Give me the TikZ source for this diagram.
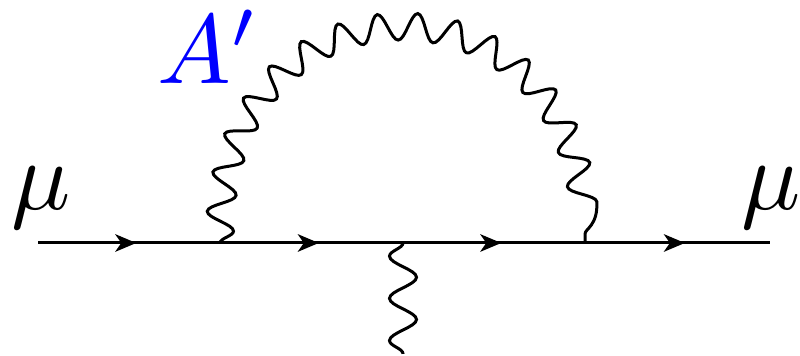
\documentclass[tikz,border=0pt]{standalone}
\usetikzlibrary{arrows.meta,decorations.pathmorphing,decorations.markings}
\begin{document}
\begin{tikzpicture}[
  fermion/.style={line width=0.3mm,postaction={decorate},
    decoration={markings,mark=at position 0.54 with {\arrow{Stealth[length=2.1mm,width=1.75mm,inset=0.6mm]}}}},
  photon/.style={line width=0.3mm,decorate,
    decoration={snake,mirror,amplitude=0.135cm,segment length=#1}},
  biglabel/.style={scale=2.8,inner sep=0pt},
]
  \useasboundingbox (0,0) rectangle (8,3.56);
  % Vertices on the muon line
  \coordinate (in) at (0.38,1.13);
  \coordinate (vl) at (2.20,1.13);
  \coordinate (vm) at (4.03,1.13);
  \coordinate (vr) at (5.85,1.13);
  \coordinate (out) at (7.70,1.13);
  \coordinate (ext) at (4.03,0.02);
  % Muon line
  \draw[fermion] (in) -- (vl);
  \draw[fermion] (vl) -- (vm);
  \draw[fermion] (vm) -- (vr);
  \draw[fermion] (vr) -- (out);
  % Loop and external photon
  \draw[photon=0.3775cm] (vl) .. controls +(0,2.76) and +(0,2.76) .. (vr);
  \draw[photon=0.422cm] (vm) -- (ext);
  % Labels
  \node[biglabel] (muin) at (0.41,1.585) {$\mu$};
  \node[biglabel] (muout) at (7.71,1.585) {$\mu$};
  \node[biglabel,text=blue] (dark) at (2.08,3.09) {$A'$};
\end{tikzpicture}
\end{document}
